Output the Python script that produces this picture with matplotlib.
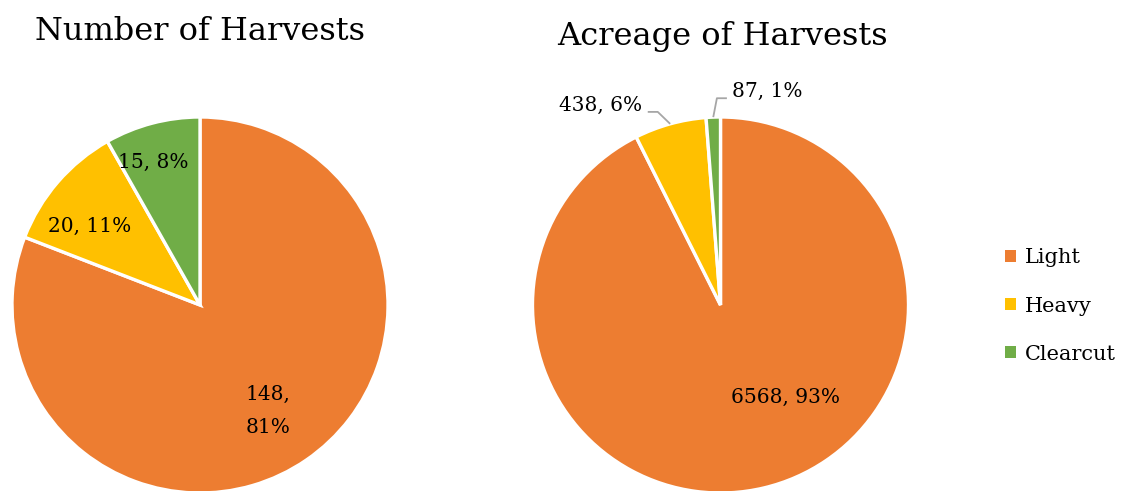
import numpy as np
import matplotlib
matplotlib.use("Agg")
import matplotlib.pyplot as plt
from matplotlib.patches import Patch

plt.rcParams['font.family'] = ['DejaVu Serif']

categories = ["Light", "Heavy", "Clearcut"]
harvest_counts = [148, 20, 15]
harvest_acres = [6568, 438, 87]
colors = ["#ED7D31", "#FFC000", "#70AD47"]

W, H = 1122, 491
fig = plt.figure(figsize=(W / 100, H / 100), dpi=100)

R_PX = 188.0


def pie_axes(cx, cy):
    return fig.add_axes([(cx - R_PX) / W, (H - cy - R_PX) / H, 2 * R_PX / W, 2 * R_PX / H])


def draw_pie(ax, values):
    ax.pie(values, colors=colors, startangle=90, counterclock=False,
           wedgeprops=dict(edgecolor="white", linewidth=2.4))
    ax.set_xlim(-1, 1)
    ax.set_ylim(-1, 1)
    ax.set_aspect("equal")
    ax.axis("off")
    total = sum(values)
    fracs = [v / total for v in values]
    mids = []
    start = 90.0
    for f in fracs:
        mids.append(start - f * 180.0)
        start -= f * 360.0
    return fracs, mids


label_fs = 14.5

# Left: number of harvests
ax1 = pie_axes(200, 305)
fr1, mid1 = draw_pie(ax1, harvest_counts)
lab1 = [f"{v},\n{f*100:.0f}%" if i == 0 else f"{v}, {f*100:.0f}%"
        for i, (v, f) in enumerate(zip(harvest_counts, fr1))]
pos1 = [(0.362, -0.564), (-0.585, 0.42), (-0.25, 0.76)]
for t, (x, y) in zip(lab1, pos1):
    ax1.text(x, y, t, ha="center", va="center", fontsize=label_fs,
             linespacing=1.95)

# Right: acreage of harvests
ax2 = pie_axes(720.5, 305)
fr2, mid2 = draw_pie(ax2, harvest_acres)
lab2 = [f"{v}, {f*100:.0f}%" for v, f in zip(harvest_acres, fr2)]
ax2.text(0.348, -0.49, lab2[0], ha="center", va="center", fontsize=label_fs)

lead = "#A6A6A6"
seg = 10 / R_PX
# Heavy leader: from wedge edge out to elbow, then left to label
a = np.deg2rad(mid2[1])
p0 = (np.cos(a), np.sin(a))
p1 = (1.08 * np.cos(np.deg2rad(108)), 1.08 * np.sin(np.deg2rad(108)))
p2 = (p1[0] - seg, p1[1])
ax2.plot([p0[0], p1[0], p2[0]], [p0[1], p1[1], p2[1]], color=lead, lw=1.3,
         clip_on=False, solid_capstyle="butt")
ax2.text(p2[0] - 6 / R_PX, p2[1] + 6 / R_PX, lab2[1], ha="right", va="center",
         fontsize=label_fs)
# Clearcut leader: from wedge edge up to elbow, then right to label
a = np.deg2rad(mid2[2])
q0 = (np.cos(a), np.sin(a))
q1 = (1.10 * np.cos(np.deg2rad(91)), 1.10 * np.sin(np.deg2rad(91)))
q2 = (q1[0] + seg, q1[1])
ax2.plot([q0[0], q1[0], q2[0]], [q0[1], q1[1], q2[1]], color=lead, lw=1.3,
         clip_on=False, solid_capstyle="butt")
ax2.text(q2[0] + 5 / R_PX, q2[1] + 7 / R_PX, lab2[2], ha="left", va="center",
         fontsize=label_fs)

# Titles
fig.text(200 / W, 1 - 40 / H, "Number of Harvests", ha="center", va="baseline",
         fontsize=23)
fig.text(722 / W, 1 - 45 / H, "Acreage of Harvests", ha="center", va="baseline",
         fontsize=23)

# Legend
handles = [Patch(facecolor=c, edgecolor="none") for c in colors]
fig.legend(handles, categories, loc="center left",
           bbox_to_anchor=(995 / W, 1 - 306 / H), frameon=False,
           fontsize=15, handlelength=0.5, handleheight=0.5,
           handletextpad=0.45, labelspacing=1.4, borderpad=0)

fig.savefig("out.png", dpi=100)
